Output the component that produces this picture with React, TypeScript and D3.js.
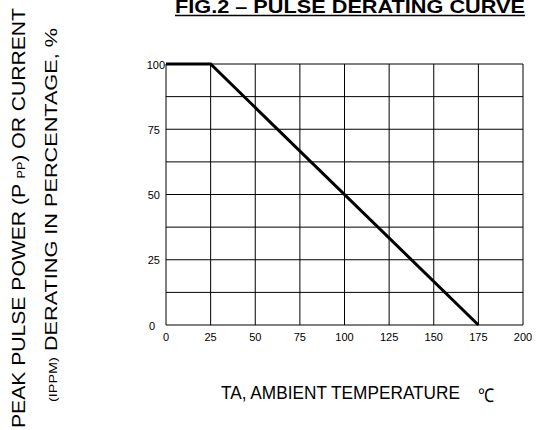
import React from "react";
import * as d3 from "d3";

const curveTemps = [0, 25, 175];
const curvePercent = [100, 100, 0];
const xTicks = [0, 25, 50, 75, 100, 125, 150, 175, 200];
const yTickLabels = [0, 25, 50, 75, 100];
const yGrid = [0, 12.5, 25, 37.5, 50, 62.5, 75, 87.5, 100];

const W = 539;
const H = 430;
const left = 166;
const right = 523;
const top = 64;
const bottom = 325;

export default function App() {
  const x = d3.scaleLinear().domain([0, 200]).range([left, right]);
  const y = d3.scaleLinear().domain([0, 100]).range([bottom, top]);
  const pts: [number, number][] = curveTemps.map((t, i) => [t, curvePercent[i]]);
  const line = d3
    .line<[number, number]>()
    .x((d) => x(d[0]))
    .y((d) => y(d[1]));
  const font = "Arial, 'Liberation Sans', sans-serif";
  const yLabelGap = (t: number) => (t === 100 ? 1 : t === 0 ? 11 : 6);
  const sx = 0.82;
  return (
    <svg
      width={W}
      height={H}
      style={{ position: "absolute", left: 0, top: 0, background: "#fff" }}
      fontFamily={font}
    >
      <rect x={0} y={0} width={W} height={H} fill="#fff" />
      {/* title */}
      <text x={175} y={12.5} fontWeight="bold" fontSize={18} fill="#000" textLength={350} lengthAdjust="spacingAndGlyphs">
        FIG.2 – PULSE DERATING CURVE
      </text>
      <line x1={175} x2={525} y1={15.5} y2={15.5} stroke="#000" strokeWidth={1.6} />
      {/* grid */}
      {xTicks.map((t) => (
        <line key={"vx" + t} x1={x(t)} x2={x(t)} y1={top} y2={bottom} stroke="#000" strokeWidth={1} />
      ))}
      {yGrid.map((t) => (
        <line key={"hy" + t} x1={left} x2={right} y1={y(t)} y2={y(t)} stroke="#000" strokeWidth={1} />
      ))}
      {/* curve */}
      <path d={line(pts) || ""} fill="none" stroke="#000" strokeWidth={3} />
      {/* y tick labels */}
      {yTickLabels.map((t) => (
        <text key={"yl" + t} x={left - yLabelGap(t)} y={y(t) + 4.5} textAnchor="end" fontSize={11} fill="#000">
          {t}
        </text>
      ))}
      {/* x tick labels */}
      {xTicks.map((t) => (
        <text key={"xl" + t} x={x(t)} y={341} textAnchor="middle" fontSize={11} fill="#000">
          {t}
        </text>
      ))}
      {/* x axis label */}
      <g transform={`translate(221,399) scale(${sx},1)`}>
        <text x={0} y={0} fontSize={19} fill="#000" textLength={239 / sx} lengthAdjust="spacingAndGlyphs">
          TA, AMBIENT TEMPERATURE
        </text>
      </g>
      <g transform="translate(478,402) scale(0.85,1)">
        <text x={0} y={0} fontSize={19} fill="#000">
          ℃
        </text>
      </g>
      {/* y axis labels */}
      <g transform="translate(24.5,428) rotate(-90)">
        <text x={0} y={0} fontSize={18.5} fill="#000" textLength={420} lengthAdjust="spacingAndGlyphs">
          PEAK PULSE POWER (P <tspan fontSize={11}>PP</tspan>) OR CURRENT
        </text>
      </g>
      <g transform="translate(57,402) rotate(-90)">
        <text x={0} y={0} fontSize={16.5} fill="#000" textLength={374} lengthAdjust="spacingAndGlyphs">
          <tspan fontSize={11}>(IPPM)</tspan> DERATING IN PERCENTAGE, %
        </text>
      </g>
    </svg>
  );
}
